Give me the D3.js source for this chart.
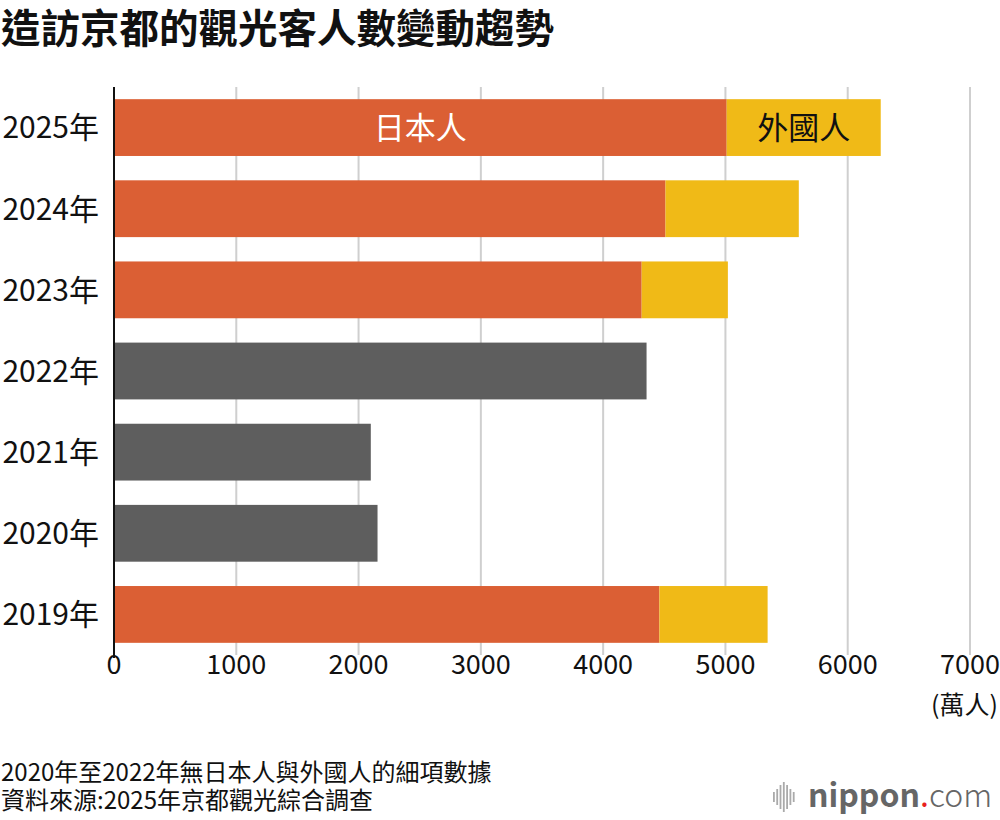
<!DOCTYPE html>
<html>
<head>
<meta charset="utf-8">
<script src="https://cdn.jsdelivr.net/npm/d3@7"></script>
<style>
  body { margin: 0; background: #fff; }
  svg { display: block; }
  text { font-family: "Noto Sans CJK TC", "Noto Sans", sans-serif; }
</style>
</head>
<body>
<div id="chart"></div>
<script>
// years top to bottom
var years = ["2025年", "2024年", "2023年", "2022年", "2021年", "2020年", "2019年"];
// 萬人; null where no breakdown
var japanese = [5010, 4510, 4315, null, null, null, 4460];
var foreign = [1260, 1090, 705, null, null, null, 885];
var totals = [6270, 5600, 5020, 4355, 2100, 2155, 5345];
var ticks = [0, 1000, 2000, 3000, 4000, 5000, 6000, 7000];

var w = 1000, h = 820;
var orange = "#db5f34", yellow = "#f0ba17", grey = "#5e5e5e";

var svg = d3.select("#chart")
  .append("svg")
  .attr("width", w)
  .attr("height", h);

var x = d3.scaleLinear().domain([0, 7000]).range([114, 970]);
var y = d3.scaleBand().domain(years).range([87, 655])
  .paddingInner(0.3).paddingOuter(0.15);

//title
svg.append("text")
  .attr("x", 1).attr("y", 43)
  .attr("font-size", "39.5px")
  .attr("font-weight", "bold")
  .attr("fill", "#111")
  .text("造訪京都的觀光客人數變動趨勢");

//gridlines
svg.selectAll(".grid")
  .data(ticks.slice(1))
  .enter()
  .append("line")
  .attr("x1", function(d) { return x(d); })
  .attr("x2", function(d) { return x(d); })
  .attr("y1", 87)
  .attr("y2", 655)
  .attr("stroke", "#cfcfcf")
  .attr("stroke-width", 2);

// bars
var rows = years.map(function(yr, i) {
  return { year: yr, jp: japanese[i], fo: foreign[i], total: totals[i] };
});

var g = svg.selectAll(".row")
  .data(rows)
  .enter()
  .append("g");

g.each(function(d) {
  var sel = d3.select(this);
  var top = y(d.year), bh = y.bandwidth();
  if (d.jp === null) {
    sel.append("rect")
      .attr("x", x(0)).attr("y", top)
      .attr("width", x(d.total) - x(0)).attr("height", bh)
      .attr("fill", grey);
  } else {
    sel.append("rect")
      .attr("x", x(0)).attr("y", top)
      .attr("width", x(d.jp) - x(0)).attr("height", bh)
      .attr("fill", orange);
    sel.append("rect")
      .attr("x", x(d.jp)).attr("y", top)
      .attr("width", x(d.jp + d.fo) - x(d.jp)).attr("height", bh)
      .attr("fill", yellow);
  }
});

// labels inside first bar
var first = rows[0];
svg.append("text")
  .attr("x", (x(0) + x(first.jp)) / 2)
  .attr("y", y(first.year) + y.bandwidth() / 2)
  .attr("dy", "0.36em")
  .attr("text-anchor", "middle")
  .attr("font-size", "31px")
  .attr("fill", "#fff")
  .text("日本人");
svg.append("text")
  .attr("x", (x(first.jp) + x(first.jp + first.fo)) / 2)
  .attr("y", y(first.year) + y.bandwidth() / 2)
  .attr("dy", "0.36em")
  .attr("text-anchor", "middle")
  .attr("font-size", "31px")
  .attr("fill", "#111")
  .text("外國人");

// y axis line
svg.append("line")
  .attr("x1", x(0)).attr("x2", x(0))
  .attr("y1", 87).attr("y2", 658)
  .attr("stroke", "#111")
  .attr("stroke-width", 2);

// year labels
svg.selectAll(".ylab")
  .data(years)
  .enter()
  .append("text")
  .attr("x", 99)
  .attr("y", function(d) { return y(d) + y.bandwidth() / 2; })
  .attr("dy", "0.36em")
  .attr("text-anchor", "end")
  .attr("font-size", "30px")
  .attr("fill", "#111")
  .text(function(d) { return d; });

// x tick labels
svg.selectAll(".xlab")
  .data(ticks)
  .enter()
  .append("text")
  .attr("x", function(d) { return x(d); })
  .attr("y", 674)
  .attr("text-anchor", "middle")
  .attr("font-family", "'Liberation Sans Narrow', 'DejaVu Sans Condensed', sans-serif")
  .attr("font-size", "27px")
  .attr("fill", "#111")
  .text(function(d) { return d; });

svg.append("text")
  .attr("x", 998).attr("y", 714)
  .attr("text-anchor", "end")
  .attr("font-size", "25px")
  .attr("fill", "#111")
  .text("(萬人)");

// notes
svg.append("text")
  .attr("x", 1).attr("y", 781)
  .attr("font-size", "24px")
  .attr("fill", "#111")
  .text("2020年至2022年無日本人與外國人的細項數據");
svg.append("text")
  .attr("x", 1).attr("y", 809)
  .attr("font-size", "24px")
  .attr("fill", "#111")
  .text("資料來源:2025年京都觀光綜合調查");

// nippon.com logo
var logo = svg.append("g");
var bars = [10, 16, 24, 30, 24, 16, 10];
bars.forEach(function(bh, i) {
  logo.append("rect")
    .attr("x", 773 + i * 3.3).attr("y", 797 - bh / 2)
    .attr("width", 1.8).attr("height", bh)
    .attr("fill", "#aaa");
});
var lt = logo.append("text")
  .attr("x", 808).attr("y", 807)
  .attr("font-family", "'Open Sans', sans-serif")
  .attr("font-size", "32px")
  .attr("fill", "#666");
lt.append("tspan").attr("font-weight", "bold").text("nippon");
lt.append("tspan").attr("fill", "#e8211c").text(".");
lt.append("tspan").attr("font-weight", 300).text("com");
</script>
</body>
</html>
